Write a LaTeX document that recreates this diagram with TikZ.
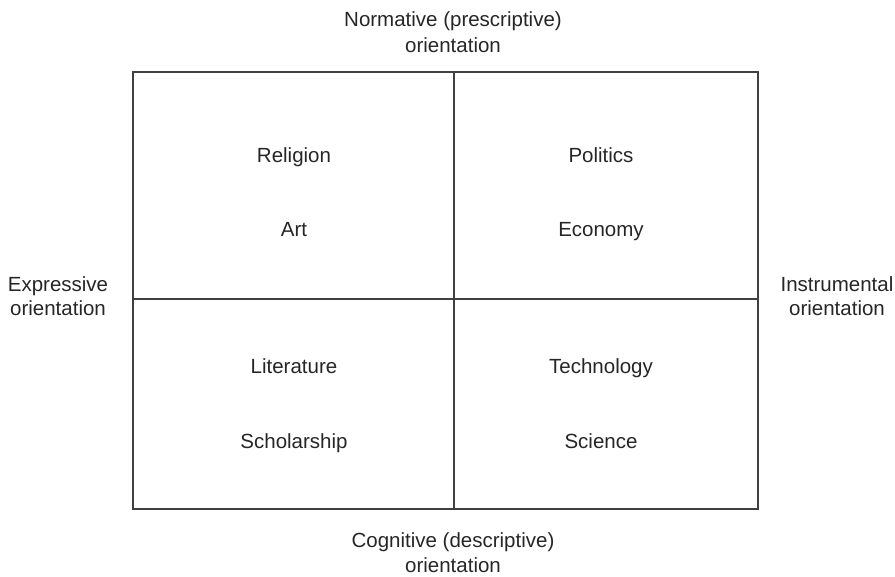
\documentclass[tikz,border=0pt]{standalone}
\usepackage{fontspec}
\setmainfont{Liberation Sans}
\begin{document}
\begin{tikzpicture}[x=1pt,y=-1pt,
  lbl/.style={font=\fontsize{20.5}{26}\selectfont, text=black!85, anchor=base, inner sep=0pt},
  frame/.style={draw=black!75, line width=1.1pt}]
\useasboundingbox (0,0) rectangle (895,577);
\coordinate (tl) at (133,72);
\coordinate (br) at (758,509);
\coordinate (tm) at (454,72);
\coordinate (bm) at (454,509);
\coordinate (ml) at (133,299);
\coordinate (mr) at (758,299);
\draw[frame] (tl) rectangle (br);
\draw[frame] (tm) -- (bm);
\draw[frame] (ml) -- (mr);
\node[lbl] (top1) at (453,27) {Normative (prescriptive)};
\node[lbl] (top2) at (453,53) {orientation};
\node[lbl] (bot1) at (453,547) {Cognitive (descriptive)};
\node[lbl] (bot2) at (453,572) {orientation};
\node[lbl] (left1) at (58,292) {Expressive};
\node[lbl] (left2) at (58,316) {orientation};
\node[lbl] (right1) at (837,292) {Instrumental};
\node[lbl] (right2) at (837,316) {orientation};
\node[lbl] (rel) at (294,163) {Religion};
\node[lbl] (art) at (294,237) {Art};
\node[lbl] (pol) at (601,163) {Politics};
\node[lbl] (eco) at (601,237) {Economy};
\node[lbl] (lit) at (294,374) {Literature};
\node[lbl] (sch) at (294,449) {Scholarship};
\node[lbl] (tec) at (601,374) {Technology};
\node[lbl] (sci) at (601,449) {Science};
\end{tikzpicture}
\end{document}
